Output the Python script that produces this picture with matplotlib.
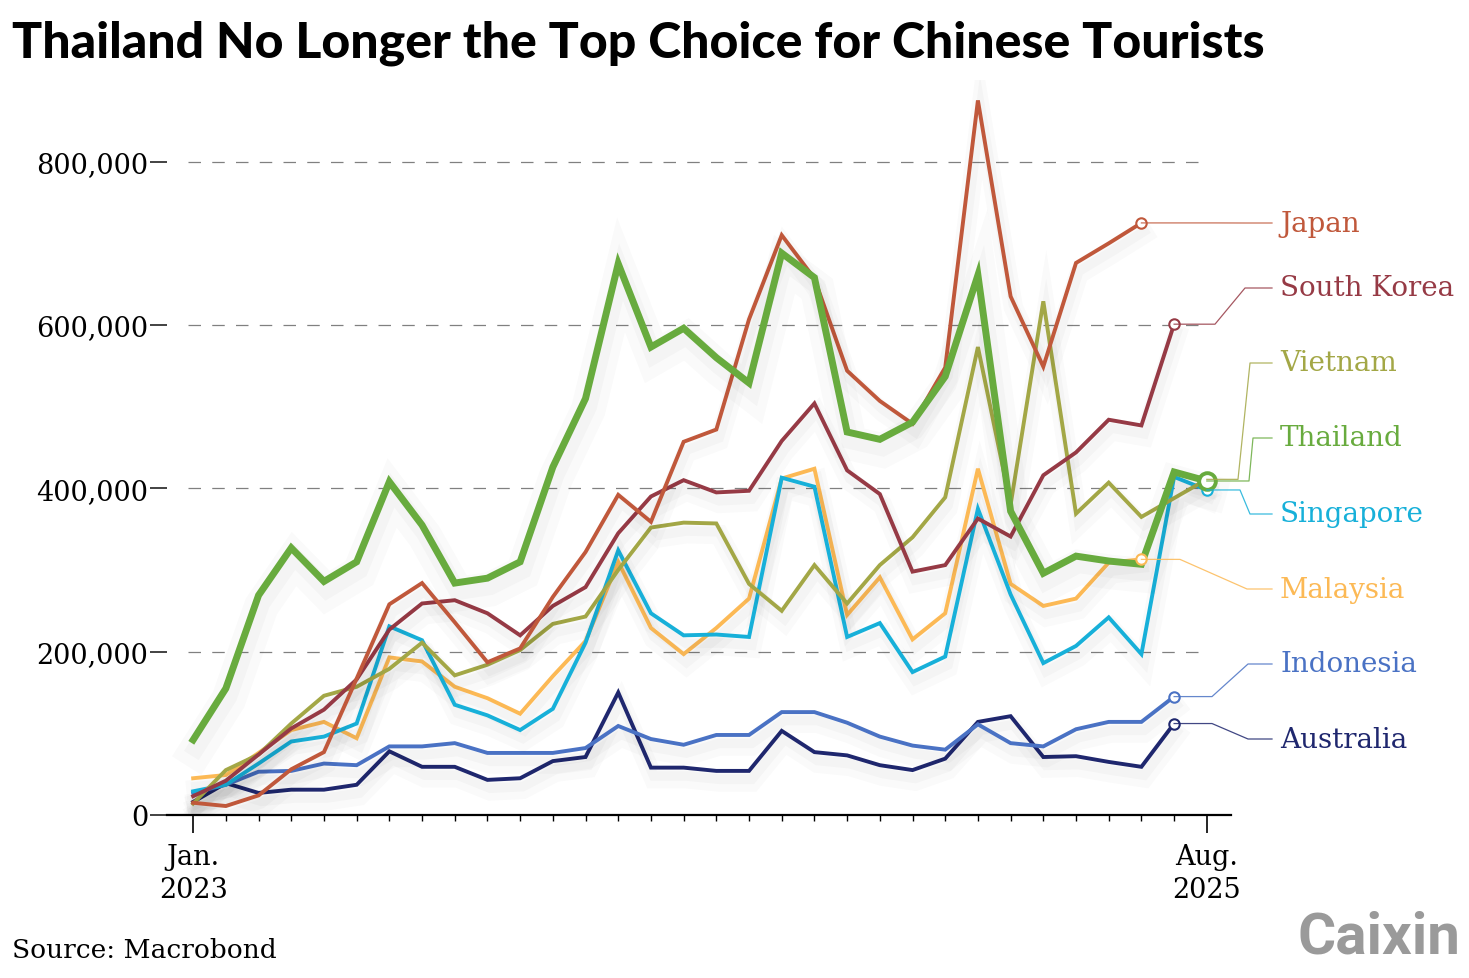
import matplotlib
matplotlib.use("Agg")
import matplotlib.pyplot as plt
import matplotlib.patheffects as pe
from matplotlib.lines import Line2D
from matplotlib.transforms import IdentityTransform
from matplotlib.ticker import FuncFormatter

# monthly arrivals of Chinese tourists, thousands, Jan 2023 .. Aug 2025
months = list(range(32))
tick_pos = [0, 31]
tick_labels = ["Jan.\n2023", "Aug.\n2025"]

thailand = [92, 155, 269, 327, 286, 310, 408, 355, 284, 290, 310, 426, 510, 675, 573, 596,
            560, 529, 688, 658, 469, 460, 481, 537, 661, 372, 296, 317, 311, 307, 420, 409]
japan = [15, 11, 24, 56, 77, 167, 258, 284, 236, 187, 204, 267, 322, 392, 359, 457,
         472, 607, 710, 657, 544, 507, 479, 548, 875, 635, 549, 676, 700, 725]
south_korea = [23, 42, 74, 106, 129, 166, 227, 259, 263, 247, 220, 256, 279, 345, 390, 410,
               395, 397, 458, 504, 422, 393, 298, 306, 363, 341, 416, 444, 484, 477, 601]
vietnam = [14, 55, 74, 112, 146, 157, 179, 211, 171, 184, 202, 234, 243, 300, 352, 358,
           357, 283, 250, 306, 259, 306, 340, 389, 573, 380, 629, 369, 407, 365, 388, 411]
singapore = [29, 37, 63, 90, 96, 112, 231, 214, 135, 122, 104, 130, 211, 324, 247, 220,
             221, 218, 413, 402, 218, 235, 175, 194, 375, 270, 186, 207, 242, 197, 414, 398]
malaysia = [45, 49, 76, 104, 114, 94, 193, 188, 157, 143, 124, 170, 213, 310, 229, 197,
            229, 265, 412, 424, 245, 291, 215, 247, 424, 283, 256, 265, 309, 313]
indonesia = [27, 37, 53, 54, 63, 61, 84, 84, 88, 76, 76, 76, 82, 109, 93, 86,
             98, 98, 126, 126, 113, 96, 85, 80, 111, 88, 84, 105, 114, 114, 145]
australia = [16, 39, 27, 31, 31, 37, 78, 59, 59, 43, 45, 66, 71, 150, 58, 58,
             54, 54, 103, 77, 73, 61, 55, 69, 114, 121, 71, 72, 65, 59, 112]

# name, values, colour, line width, label y (px from top), elbow x positions (px)
series = [
    ("Australia", australia, "#1f276e", 2.8, 740, 1212, 1248),
    ("Indonesia", indonesia, "#4a72c4", 2.8, 665, 1212, 1248),
    ("Malaysia", malaysia, "#fcb955", 2.8, 590, 1180, 1247),
    ("Singapore", singapore, "#17b0d9", 2.8, 515, 1240, 1250),
    ("Vietnam", vietnam, "#a3a746", 2.8, 364, 1238, 1250),
    ("South Korea", south_korea, "#963a45", 2.8, 289, 1215, 1245),
    ("Japan", japan, "#c0583b", 2.8, 224, 1215, 1245),
    ("Thailand", thailand, "#68ab3e", 5.0, 439, 1249, 1253),
]

W, H = 1469, 979
fig = plt.figure(figsize=(W / 100, H / 100), dpi=100)
ax = fig.add_axes([167 / W, 1 - 816 / H, (1231 - 167) / W, (816 - 81) / H])

ax.set_xlim(-0.8, 31.74)
ax.set_ylim(0, 900000)

for name, vals, col, lw, ly, e1, e2 in series:
    xs = months[:len(vals)]
    ys = [v * 1000 for v in vals]
    shadow = [pe.SimpleLineShadow(offset=(2, -8), shadow_color="k", alpha=0.018, linewidth=lw * 5),
              pe.SimpleLineShadow(offset=(2, -6), shadow_color="k", alpha=0.025, linewidth=lw * 2.5),
              pe.Normal()]
    ax.plot(xs, ys, color=col, lw=lw, solid_joinstyle="miter", zorder=3,
            path_effects=shadow)
    big = name == "Thailand"
    ax.plot(xs[-1], ys[-1], "o", ms=12 if big else 7.5, mfc="white", mec=col,
            mew=2.8 if big else 1.5, zorder=6)

ax.hlines([200000, 400000, 600000, 800000], -0.15, 31, colors="#808080", lw=0.9,
          linestyles=(0, (10, 9)), zorder=1)

for s in ["left", "right", "top"]:
    ax.spines[s].set_visible(False)
ax.spines["bottom"].set_linewidth(1.6)
ax.spines["bottom"].set_zorder(5)

ax.set_yticks([0, 200000, 400000, 600000, 800000])
ax.yaxis.set_major_formatter(FuncFormatter(lambda v, p: f"{int(v):,}"))
ax.tick_params(axis="y", length=12, width=1.2, pad=1.5, labelsize=19.5, color="#222222")
ax.set_xticks(tick_pos)
ax.set_xticklabels(tick_labels, linespacing=1.3)
ax.set_xticks(months, minor=True)
ax.tick_params(axis="x", which="major", length=13, width=1.2, pad=7, labelsize=19.5)
ax.tick_params(axis="x", which="minor", length=4.5, width=1.0)
for lab in ax.get_xticklabels() + ax.get_yticklabels():
    lab.set_fontfamily("DejaVu Serif")

# leader lines and series labels
fig.canvas.draw()
for name, vals, col, lw, ly, e1, e2 in series:
    dx, dy = ax.transData.transform((len(vals) - 1, vals[-1] * 1000))
    px = [dx, e1, e2, 1272]
    py = [dy, dy, H - ly, H - ly]
    fig.add_artist(Line2D(px, py, transform=IdentityTransform(), color=col, lw=0.9,
                          alpha=0.85, zorder=2))
    fig.text(1280 / W, 1 - ly / H, name, color=col, fontsize=20, fontfamily="DejaVu Serif",
             va="center", ha="left")

fig.text(12 / W, 1 - 57 / H, "Thailand No Longer the Top Choice for Chinese Tourists",
         fontsize=36, fontfamily="Lato", fontweight="black", va="baseline", ha="left")
fig.text(12 / W, 1 - 951 / H, "Source: Macrobond", fontsize=19, fontfamily="DejaVu Serif",
         va="center", ha="left")
fig.text(1460 / W, 1 - 938 / H, "Caixin", fontsize=42, fontfamily="Roboto", fontweight="bold",
         color="#9a9a9a", va="center", ha="right")

fig.savefig("out.png", dpi=100)
